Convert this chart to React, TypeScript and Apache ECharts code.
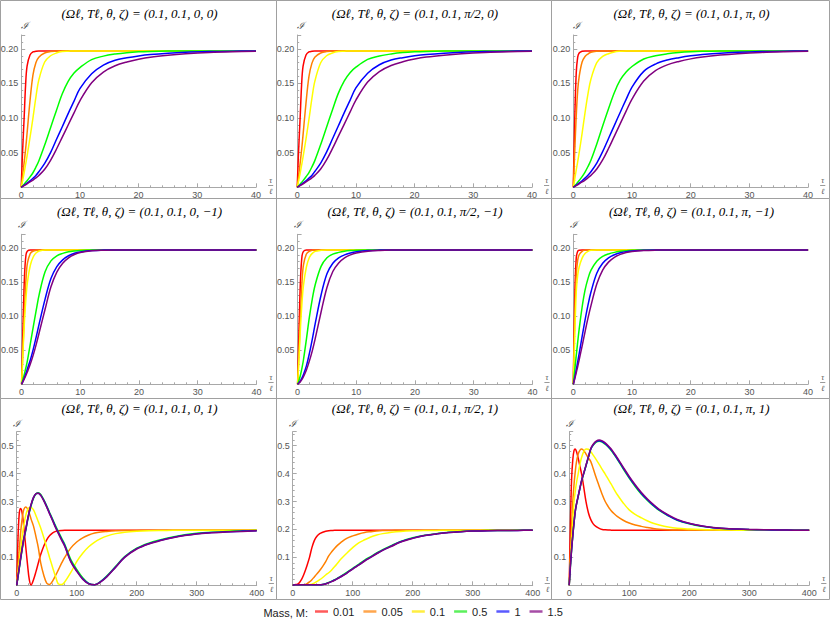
import React, { useEffect, useRef } from "react";
import * as echarts from "echarts";

// ---------- labels ----------
const MASS_LABELS = ["0.01", "0.05", "0.1", "0.5", "1", "1.5"];
const MASS_COLORS = ["#ff0000", "#ff8000", "#ffff00", "#00ff00", "#0000ff", "#800080"];
const LEGEND_COLORS = ["#ff5a5a", "#ffa64d", "#ffee40", "#5cf05c", "#5a5aff", "#a64da6"];
const PANEL_TITLES = [
  "(Ωℓ, Tℓ, θ, ζ) = (0.1, 0.1, 0, 0)",
  "(Ωℓ, Tℓ, θ, ζ) = (0.1, 0.1, π/2, 0)",
  "(Ωℓ, Tℓ, θ, ζ) = (0.1, 0.1, π, 0)",
  "(Ωℓ, Tℓ, θ, ζ) = (0.1, 0.1, 0, −1)",
  "(Ωℓ, Tℓ, θ, ζ) = (0.1, 0.1, π/2, −1)",
  "(Ωℓ, Tℓ, θ, ζ) = (0.1, 0.1, π, −1)",
  "(Ωℓ, Tℓ, θ, ζ) = (0.1, 0.1, 0, 1)",
  "(Ωℓ, Tℓ, θ, ζ) = (0.1, 0.1, π/2, 1)",
  "(Ωℓ, Tℓ, θ, ζ) = (0.1, 0.1, π, 1)",
];

// ---------- axis ranges ----------
const X_MAX_FAST = 40;
const X_STEP_FAST = 10;
const Y_MAX_FAST = 0.22;
const Y_STEP_FAST = 0.05;
const X_MAX_SLOW = 400;
const X_STEP_SLOW = 100;
const Y_MAX_SLOW = 0.55;
const Y_STEP_SLOW = 0.1;

// ---------- sample abscissae ----------
const X_FAST = [0, 0.25, 0.5, 0.75, 1, 1.5, 2, 2.5, 3, 4, 5, 6, 7, 8, 9, 10, 12, 14, 16, 18, 20, 22, 25, 28, 32, 36, 40];
const X_SLOW = [0, 2, 4, 6, 8, 10, 12, 15, 18, 21, 24, 28, 32, 36, 40, 45, 50, 55, 60, 65, 70, 75, 80, 90, 100,
  110, 120, 130, 140, 150, 165, 180, 200, 220, 240, 260, 280, 300, 325, 350, 375, 400];

// ---------- panel A: theta=0, zeta=0 ----------
const A_RED = [0, 0.055, 0.1, 0.148, 0.175, 0.191, 0.1955, 0.1965, 0.197, 0.197,
  0.197, 0.197, 0.197, 0.197, 0.197, 0.197, 0.197, 0.197, 0.197, 0.197,
  0.197, 0.197, 0.197, 0.197, 0.197, 0.197, 0.197];
const A_ORANGE = [0, 0.018, 0.036, 0.055, 0.078, 0.125, 0.162, 0.18, 0.188, 0.194,
  0.196, 0.1965, 0.197, 0.197, 0.197, 0.197, 0.197, 0.197, 0.197, 0.197,
  0.197, 0.197, 0.197, 0.197, 0.197, 0.197, 0.197];
const A_YELLOW = [0, 0.01, 0.021, 0.033, 0.045, 0.072, 0.1, 0.13, 0.155, 0.181,
  0.19, 0.194, 0.196, 0.1965, 0.197, 0.197, 0.197, 0.197, 0.197, 0.197,
  0.197, 0.197, 0.197, 0.197, 0.197, 0.197, 0.197];
const A_GREEN = [0, 0.0022, 0.0045, 0.007, 0.0095, 0.015, 0.021, 0.029, 0.038, 0.061,
  0.086, 0.111, 0.135, 0.153, 0.165, 0.173, 0.1845, 0.1895, 0.1925, 0.1945,
  0.1957, 0.1963, 0.1968, 0.197, 0.197, 0.197, 0.197];
const A_BLUE = [0, 0.0015, 0.003, 0.0045, 0.006, 0.0093, 0.013, 0.017, 0.0225, 0.0345,
  0.05, 0.069, 0.0875, 0.1065, 0.1245, 0.1425, 0.164, 0.1765, 0.1835, 0.187,
  0.1897, 0.1917, 0.1937, 0.195, 0.196, 0.1966, 0.1969];
const A_PURPLE = [0, 0.0012, 0.0025, 0.0037, 0.005, 0.0077, 0.0105, 0.0135, 0.017, 0.026,
  0.039, 0.055, 0.0725, 0.09, 0.1075, 0.125, 0.151, 0.1665, 0.1755, 0.181,
  0.185, 0.188, 0.1908, 0.1928, 0.1947, 0.1958, 0.1964];

// ---------- panel B: theta=pi/2, zeta=0 ----------
const B_RED = [0, 0.055, 0.1, 0.148, 0.175, 0.191, 0.1955, 0.1965, 0.197, 0.197,
  0.197, 0.197, 0.197, 0.197, 0.197, 0.197, 0.197, 0.197, 0.197, 0.197,
  0.197, 0.197, 0.197, 0.197, 0.197, 0.197, 0.197];
const B_ORANGE = [0, 0.017, 0.035, 0.054, 0.076, 0.122, 0.16, 0.179, 0.188, 0.194,
  0.196, 0.1965, 0.197, 0.197, 0.197, 0.197, 0.197, 0.197, 0.197, 0.197,
  0.197, 0.197, 0.197, 0.197, 0.197, 0.197, 0.197];
const B_YELLOW = [0, 0.01, 0.02, 0.032, 0.044, 0.07, 0.098, 0.128, 0.153, 0.18,
  0.19, 0.194, 0.196, 0.1965, 0.197, 0.197, 0.197, 0.197, 0.197, 0.197,
  0.197, 0.197, 0.197, 0.197, 0.197, 0.197, 0.197];
const B_GREEN = [0, 0.0022, 0.0045, 0.007, 0.0096, 0.0152, 0.0213, 0.0293, 0.0385, 0.0617,
  0.0868, 0.1118, 0.1357, 0.1535, 0.1655, 0.1735, 0.1848, 0.1897, 0.1926, 0.1946,
  0.1957, 0.1963, 0.1968, 0.197, 0.197, 0.197, 0.197];
const B_BLUE = [0, 0.0015, 0.003, 0.0045, 0.006, 0.0094, 0.0132, 0.0172, 0.0228, 0.035,
  0.0508, 0.0698, 0.0885, 0.1075, 0.1255, 0.1435, 0.1648, 0.177, 0.1838, 0.1873,
  0.1899, 0.1918, 0.1937, 0.195, 0.196, 0.1966, 0.1969];
const B_PURPLE = [0, 0.0012, 0.0025, 0.0037, 0.005, 0.0077, 0.0106, 0.0137, 0.0172, 0.0264,
  0.0395, 0.0558, 0.0735, 0.091, 0.1085, 0.126, 0.152, 0.1672, 0.176, 0.1813,
  0.1852, 0.1881, 0.1909, 0.1929, 0.1947, 0.1958, 0.1964];

// ---------- panel C: theta=pi, zeta=0 ----------
const C_RED = [0, 0.1, 0.165, 0.188, 0.194, 0.1965, 0.197, 0.197, 0.197, 0.197,
  0.197, 0.197, 0.197, 0.197, 0.197, 0.197, 0.197, 0.197, 0.197, 0.197,
  0.197, 0.197, 0.197, 0.197, 0.197, 0.197, 0.197];
const C_ORANGE = [0, 0.053, 0.103, 0.14, 0.16, 0.181, 0.189, 0.1925, 0.195, 0.1965,
  0.197, 0.197, 0.197, 0.197, 0.197, 0.197, 0.197, 0.197, 0.197, 0.197,
  0.197, 0.197, 0.197, 0.197, 0.197, 0.197, 0.197];
const C_YELLOW = [0, 0.012, 0.025, 0.037, 0.05, 0.078, 0.108, 0.135, 0.156, 0.18,
  0.189, 0.193, 0.1955, 0.1965, 0.197, 0.197, 0.197, 0.197, 0.197, 0.197,
  0.197, 0.197, 0.197, 0.197, 0.197, 0.197, 0.197];
const C_GREEN = [0, 0.0022, 0.0046, 0.0072, 0.0098, 0.0155, 0.022, 0.03, 0.039, 0.0625,
  0.0885, 0.1135, 0.137, 0.155, 0.1665, 0.1745, 0.1853, 0.19, 0.1928, 0.1947,
  0.1958, 0.1964, 0.1968, 0.197, 0.197, 0.197, 0.197];
const C_BLUE = [0, 0.0015, 0.003, 0.0045, 0.006, 0.0095, 0.0133, 0.0175, 0.0225, 0.035,
  0.0515, 0.0705, 0.0895, 0.1085, 0.127, 0.1448, 0.1675, 0.178, 0.1838, 0.1873,
  0.19, 0.1918, 0.1938, 0.195, 0.196, 0.1966, 0.1969];
const C_PURPLE = [0, 0.0012, 0.0025, 0.0037, 0.005, 0.0077, 0.0105, 0.0137, 0.0172, 0.0265,
  0.0395, 0.056, 0.074, 0.092, 0.11, 0.1275, 0.1535, 0.1685, 0.1768, 0.1818,
  0.1855, 0.1882, 0.191, 0.193, 0.1948, 0.1958, 0.1964];

// ---------- panel D: theta=0, zeta=-1 ----------
const D_RED = [0, 0.09, 0.16, 0.19, 0.1955, 0.197, 0.197, 0.197, 0.197, 0.197,
  0.197, 0.197, 0.197, 0.197, 0.197, 0.197, 0.197, 0.197, 0.197, 0.197,
  0.197, 0.197, 0.197, 0.197, 0.197, 0.197, 0.197];
const D_ORANGE = [0, 0.055, 0.11, 0.155, 0.178, 0.192, 0.1955, 0.1965, 0.197, 0.197,
  0.197, 0.197, 0.197, 0.197, 0.197, 0.197, 0.197, 0.197, 0.197, 0.197,
  0.197, 0.197, 0.197, 0.197, 0.197, 0.197, 0.197];
const D_YELLOW = [0, 0.05, 0.095, 0.127, 0.15, 0.175, 0.187, 0.193, 0.1955, 0.197,
  0.197, 0.197, 0.197, 0.197, 0.197, 0.197, 0.197, 0.197, 0.197, 0.197,
  0.197, 0.197, 0.197, 0.197, 0.197, 0.197, 0.197];
const D_GREEN = [0, 0.008, 0.016, 0.025, 0.035, 0.06, 0.085, 0.109, 0.132, 0.165,
  0.181, 0.1885, 0.192, 0.1943, 0.1955, 0.1962, 0.1968, 0.197, 0.197, 0.197,
  0.197, 0.197, 0.197, 0.197, 0.197, 0.197, 0.197];
const D_BLUE = [0, 0.005, 0.0105, 0.0165, 0.023, 0.036, 0.052, 0.07, 0.089, 0.125,
  0.155, 0.1725, 0.1825, 0.1885, 0.1922, 0.1942, 0.1962, 0.1968, 0.197, 0.197,
  0.197, 0.197, 0.197, 0.197, 0.197, 0.197, 0.197];
const D_PURPLE = [0, 0.0042, 0.0087, 0.0135, 0.0185, 0.03, 0.0435, 0.059, 0.076, 0.11,
  0.143, 0.1645, 0.1775, 0.1855, 0.1903, 0.1932, 0.1958, 0.1966, 0.197, 0.197,
  0.197, 0.197, 0.197, 0.197, 0.197, 0.197, 0.197];

// ---------- panel E: theta=pi/2, zeta=-1 ----------
const E_RED = [0, 0.085, 0.155, 0.188, 0.195, 0.197, 0.197, 0.197, 0.197, 0.197,
  0.197, 0.197, 0.197, 0.197, 0.197, 0.197, 0.197, 0.197, 0.197, 0.197,
  0.197, 0.197, 0.197, 0.197, 0.197, 0.197, 0.197];
const E_ORANGE = [0, 0.05, 0.105, 0.15, 0.175, 0.191, 0.195, 0.1965, 0.197, 0.197,
  0.197, 0.197, 0.197, 0.197, 0.197, 0.197, 0.197, 0.197, 0.197, 0.197,
  0.197, 0.197, 0.197, 0.197, 0.197, 0.197, 0.197];
const E_YELLOW = [0, 0.04, 0.085, 0.12, 0.145, 0.172, 0.186, 0.192, 0.195, 0.1965,
  0.197, 0.197, 0.197, 0.197, 0.197, 0.197, 0.197, 0.197, 0.197, 0.197,
  0.197, 0.197, 0.197, 0.197, 0.197, 0.197, 0.197];
const E_GREEN = [0, 0.006, 0.014, 0.024, 0.036, 0.066, 0.098, 0.125, 0.146, 0.173,
  0.1855, 0.191, 0.1935, 0.1952, 0.1961, 0.1966, 0.197, 0.197, 0.197, 0.197,
  0.197, 0.197, 0.197, 0.197, 0.197, 0.197, 0.197];
const E_BLUE = [0, 0.0025, 0.0055, 0.0095, 0.0145, 0.027, 0.045, 0.066, 0.089, 0.131,
  0.162, 0.1775, 0.1853, 0.1898, 0.1925, 0.1943, 0.1962, 0.1968, 0.197, 0.197,
  0.197, 0.197, 0.197, 0.197, 0.197, 0.197, 0.197];
const E_PURPLE = [0, 0.0018, 0.0042, 0.0072, 0.011, 0.021, 0.034, 0.049, 0.067, 0.106,
  0.142, 0.1655, 0.178, 0.1855, 0.1898, 0.1925, 0.1952, 0.1964, 0.1969, 0.197,
  0.197, 0.197, 0.197, 0.197, 0.197, 0.197, 0.197];

// ---------- panel F: theta=pi, zeta=-1 ----------
const F_RED = [0, 0.13, 0.185, 0.195, 0.1965, 0.197, 0.197, 0.197, 0.197, 0.197,
  0.197, 0.197, 0.197, 0.197, 0.197, 0.197, 0.197, 0.197, 0.197, 0.197,
  0.197, 0.197, 0.197, 0.197, 0.197, 0.197, 0.197];
const F_ORANGE = [0, 0.1, 0.16, 0.182, 0.19, 0.195, 0.1968, 0.197, 0.197, 0.197,
  0.197, 0.197, 0.197, 0.197, 0.197, 0.197, 0.197, 0.197, 0.197, 0.197,
  0.197, 0.197, 0.197, 0.197, 0.197, 0.197, 0.197];
const F_YELLOW = [0, 0.07, 0.135, 0.16, 0.172, 0.185, 0.192, 0.195, 0.1965, 0.197,
  0.197, 0.197, 0.197, 0.197, 0.197, 0.197, 0.197, 0.197, 0.197, 0.197,
  0.197, 0.197, 0.197, 0.197, 0.197, 0.197, 0.197];
const F_GREEN = [0, 0.021, 0.042, 0.062, 0.081, 0.113, 0.138, 0.155, 0.167, 0.1805,
  0.1875, 0.1912, 0.1935, 0.195, 0.196, 0.1965, 0.1969, 0.197, 0.197, 0.197,
  0.197, 0.197, 0.197, 0.197, 0.197, 0.197, 0.197];
const F_BLUE = [0, 0.01, 0.021, 0.033, 0.045, 0.07, 0.094, 0.116, 0.135, 0.163,
  0.1775, 0.1855, 0.19, 0.1928, 0.1946, 0.1956, 0.1966, 0.197, 0.197, 0.197,
  0.197, 0.197, 0.197, 0.197, 0.197, 0.197, 0.197];
const F_PURPLE = [0, 0.008, 0.017, 0.026, 0.036, 0.056, 0.077, 0.097, 0.115, 0.147,
  0.1675, 0.1792, 0.1862, 0.1905, 0.1932, 0.1948, 0.1962, 0.1968, 0.197, 0.197,
  0.197, 0.197, 0.197, 0.197, 0.197, 0.197, 0.197];

// ---------- panel G: theta=0, zeta=1 ----------
const G_RED = [0, 0.16, 0.25, 0.275, 0.27, 0.245, 0.205, 0.14, 0.075, 0.02,
  0.001, 0.02, 0.048, 0.08, 0.11, 0.14, 0.163, 0.178, 0.188, 0.193,
  0.1955, 0.1965, 0.197, 0.197, 0.197, 0.197, 0.197, 0.197, 0.197, 0.197,
  0.197, 0.197, 0.197, 0.197, 0.197, 0.197, 0.197, 0.197, 0.197, 0.197,
  0.197, 0.197];
const G_ORANGE = [0, 0.06, 0.12, 0.175, 0.22, 0.252, 0.272, 0.28, 0.274, 0.258,
  0.237, 0.212, 0.175, 0.135, 0.08, 0.037, 0.008, 0.003, 0.016, 0.036,
  0.058, 0.08, 0.1, 0.133, 0.155, 0.17, 0.18, 0.187, 0.191, 0.193,
  0.195, 0.196, 0.1965, 0.197, 0.197, 0.197, 0.197, 0.197, 0.197, 0.197,
  0.197, 0.197];
const G_YELLOW = [0, 0.04, 0.08, 0.118, 0.155, 0.19, 0.218, 0.25, 0.27, 0.279,
  0.279, 0.27, 0.25, 0.228, 0.205, 0.172, 0.135, 0.098, 0.063, 0.03,
  0.004, 0.003, 0.012, 0.045, 0.085, 0.115, 0.138, 0.155, 0.167, 0.176,
  0.185, 0.19, 0.1935, 0.1955, 0.1963, 0.1967, 0.197, 0.197, 0.197, 0.197,
  0.197, 0.197];
const G_GREEN = [0, 0.027, 0.056, 0.085, 0.113, 0.14, 0.165, 0.195, 0.23, 0.26,
  0.285, 0.312, 0.327, 0.331, 0.325, 0.307, 0.285, 0.26, 0.236, 0.212,
  0.19, 0.168, 0.147, 0.093, 0.057, 0.027, 0.007, 0.002, 0.014, 0.033,
  0.068, 0.103, 0.133, 0.151, 0.163, 0.173, 0.181, 0.186, 0.19, 0.193,
  0.195, 0.196];
const G_BLUE = [0, 0.029, 0.058, 0.088, 0.116, 0.143, 0.168, 0.198, 0.233, 0.263,
  0.288, 0.314, 0.328, 0.33, 0.323, 0.305, 0.282, 0.257, 0.233, 0.208,
  0.186, 0.164, 0.143, 0.087, 0.052, 0.023, 0.006, 0.002, 0.013, 0.031,
  0.066, 0.101, 0.131, 0.149, 0.161, 0.171, 0.179, 0.185, 0.189, 0.192,
  0.194, 0.1955];
const G_PURPLE = [0, 0.03, 0.06, 0.09, 0.118, 0.145, 0.17, 0.2, 0.235, 0.265,
  0.29, 0.315, 0.328, 0.33, 0.322, 0.303, 0.28, 0.255, 0.23, 0.205,
  0.183, 0.161, 0.14, 0.085, 0.05, 0.022, 0.005, 0.002, 0.012, 0.03,
  0.065, 0.1, 0.13, 0.148, 0.16, 0.17, 0.178, 0.184, 0.188, 0.191,
  0.193, 0.195];

// ---------- panel H: theta=pi/2, zeta=1 ----------
const H_RED = [0, 0.001, 0.002, 0.003, 0.004, 0.007, 0.012, 0.022, 0.036, 0.053,
  0.072, 0.1, 0.135, 0.16, 0.175, 0.185, 0.19, 0.1935, 0.1955, 0.1963,
  0.197, 0.197, 0.197, 0.197, 0.197, 0.197, 0.197, 0.197, 0.197, 0.197,
  0.197, 0.197, 0.197, 0.197, 0.197, 0.197, 0.197, 0.197, 0.197, 0.197,
  0.197, 0.197];
const H_ORANGE = [0, 0.001, 0.001, 0.002, 0.002, 0.002, 0.002, 0.002, 0.002, 0.003,
  0.006, 0.012, 0.02, 0.03, 0.04, 0.053, 0.068, 0.085, 0.105, 0.12,
  0.133, 0.144, 0.153, 0.168, 0.177, 0.184, 0.189, 0.192, 0.1945, 0.196,
  0.1965, 0.197, 0.197, 0.197, 0.197, 0.197, 0.197, 0.197, 0.197, 0.197,
  0.197, 0.197];
const H_YELLOW = [0, 0.001, 0.001, 0.001, 0.002, 0.002, 0.002, 0.002, 0.002, 0.002,
  0.002, 0.002, 0.004, 0.008, 0.013, 0.02, 0.028, 0.037, 0.045, 0.055,
  0.067, 0.08, 0.093, 0.115, 0.135, 0.152, 0.163, 0.173, 0.18, 0.185,
  0.19, 0.193, 0.195, 0.196, 0.1965, 0.197, 0.197, 0.197, 0.197, 0.197,
  0.197, 0.197];
const H_GREEN = [0, 0.001, 0.002, 0.002, 0.002, 0.002, 0.002, 0.002, 0.002, 0.002,
  0.002, 0.002, 0.002, 0.002, 0.002, 0.002, 0.003, 0.006, 0.01, 0.015,
  0.02, 0.026, 0.032, 0.046, 0.061, 0.075, 0.09, 0.103, 0.116, 0.128,
  0.143, 0.157, 0.17, 0.179, 0.185, 0.19, 0.193, 0.1945, 0.1958, 0.1963,
  0.1967, 0.197];
const H_BLUE = [0, 0.001, 0.002, 0.002, 0.002, 0.002, 0.002, 0.002, 0.002, 0.002,
  0.002, 0.002, 0.002, 0.002, 0.002, 0.002, 0.003, 0.0055, 0.0095, 0.014,
  0.019, 0.025, 0.031, 0.044, 0.059, 0.073, 0.088, 0.101, 0.114, 0.126,
  0.141, 0.156, 0.169, 0.178, 0.184, 0.189, 0.192, 0.194, 0.1955, 0.196,
  0.1965, 0.197];
const H_PURPLE = [0, 0.001, 0.002, 0.002, 0.002, 0.002, 0.002, 0.002, 0.002, 0.002,
  0.002, 0.002, 0.002, 0.002, 0.002, 0.002, 0.003, 0.005, 0.009, 0.013,
  0.018, 0.024, 0.03, 0.043, 0.058, 0.072, 0.087, 0.1, 0.113, 0.125,
  0.14, 0.155, 0.168, 0.178, 0.184, 0.189, 0.192, 0.194, 0.1955, 0.196,
  0.1965, 0.197];

// ---------- panel I: theta=pi, zeta=1 ----------
const I_RED = [0, 0.22, 0.38, 0.45, 0.482, 0.488, 0.48, 0.455, 0.425, 0.395,
  0.355, 0.3, 0.26, 0.235, 0.22, 0.21, 0.204, 0.2, 0.1985, 0.1978,
  0.1975, 0.1972, 0.197, 0.197, 0.197, 0.197, 0.197, 0.197, 0.197, 0.197,
  0.197, 0.197, 0.197, 0.197, 0.197, 0.197, 0.197, 0.197, 0.197, 0.197,
  0.197, 0.197];
const I_ORANGE = [0, 0.11, 0.21, 0.3, 0.36, 0.405, 0.44, 0.47, 0.484, 0.488,
  0.483, 0.47, 0.456, 0.443, 0.418, 0.385, 0.355, 0.325, 0.3, 0.282,
  0.267, 0.256, 0.247, 0.233, 0.223, 0.216, 0.211, 0.207, 0.2035, 0.201,
  0.199, 0.198, 0.1975, 0.197, 0.197, 0.197, 0.197, 0.197, 0.197, 0.197,
  0.197, 0.197];
const I_YELLOW = [0, 0.08, 0.16, 0.235, 0.3, 0.335, 0.365, 0.4, 0.435, 0.46,
  0.478, 0.488, 0.487, 0.478, 0.466, 0.45, 0.433, 0.415, 0.398, 0.38,
  0.362, 0.343, 0.325, 0.295, 0.27, 0.254, 0.242, 0.231, 0.222, 0.216,
  0.209, 0.2045, 0.2015, 0.1995, 0.1985, 0.198, 0.1975, 0.197, 0.197, 0.197,
  0.197, 0.197];
const I_GREEN = [0, 0.068, 0.127, 0.177, 0.222, 0.262, 0.288, 0.318, 0.348, 0.376,
  0.398, 0.428, 0.458, 0.487, 0.502, 0.513, 0.516, 0.513, 0.505, 0.495,
  0.483, 0.468, 0.452, 0.417, 0.384, 0.354, 0.327, 0.305, 0.285, 0.268,
  0.249, 0.233, 0.22, 0.211, 0.206, 0.2025, 0.201, 0.1995, 0.1985, 0.198,
  0.1973, 0.197];
const I_BLUE = [0, 0.069, 0.128, 0.178, 0.223, 0.263, 0.289, 0.319, 0.349, 0.377,
  0.399, 0.429, 0.459, 0.488, 0.503, 0.514, 0.518, 0.515, 0.507, 0.497,
  0.485, 0.47, 0.454, 0.42, 0.387, 0.357, 0.33, 0.307, 0.287, 0.27,
  0.25, 0.234, 0.221, 0.212, 0.2065, 0.203, 0.2013, 0.1998, 0.1988, 0.198,
  0.1974, 0.197];
const I_PURPLE = [0, 0.07, 0.13, 0.18, 0.225, 0.265, 0.29, 0.32, 0.35, 0.378,
  0.4, 0.43, 0.46, 0.49, 0.505, 0.516, 0.52, 0.517, 0.51, 0.5,
  0.488, 0.473, 0.457, 0.423, 0.39, 0.36, 0.333, 0.31, 0.29, 0.272,
  0.252, 0.236, 0.222, 0.213, 0.207, 0.2035, 0.2015, 0.2, 0.199, 0.198,
  0.1975, 0.197];

const PANEL_DATA = [
  [A_RED, A_ORANGE, A_YELLOW, A_GREEN, A_BLUE, A_PURPLE],
  [B_RED, B_ORANGE, B_YELLOW, B_GREEN, B_BLUE, B_PURPLE],
  [C_RED, C_ORANGE, C_YELLOW, C_GREEN, C_BLUE, C_PURPLE],
  [D_RED, D_ORANGE, D_YELLOW, D_GREEN, D_BLUE, D_PURPLE],
  [E_RED, E_ORANGE, E_YELLOW, E_GREEN, E_BLUE, E_PURPLE],
  [F_RED, F_ORANGE, F_YELLOW, F_GREEN, F_BLUE, F_PURPLE],
  [G_RED, G_ORANGE, G_YELLOW, G_GREEN, G_BLUE, G_PURPLE],
  [H_RED, H_ORANGE, H_YELLOW, H_GREEN, H_BLUE, H_PURPLE],
  [I_RED, I_ORANGE, I_YELLOW, I_GREEN, I_BLUE, I_PURPLE],
];

const SANS = "'Liberation Sans', Arial, sans-serif";
const SERIF = "'Liberation Serif', 'DejaVu Serif', serif";

function buildOption() {
  const AX = "#a8a8a8";
  const LABEL = "#555555";
  const COL_EDGE = [0.5, 276.5, 551.5, 829.5];
  const ROW_EDGE = [0.5, 198.5, 398.5, 599.5];
  const GRID_LEFT = [
    [21.2, 297.2, 573.3],
    [21.6, 297.6, 573.3],
    [16.7, 292.7, 569.2],
  ];
  const GRID_W = [234.8, 234.8, 240];
  const GRID_TOP = [35, 234.3, 431.7];
  const AXIS_Y = [187.3, 384.3, 585.3];
  const TITLE_Y = [13, 211, 408];

  const grids: any[] = [];
  const xAxes: any[] = [];
  const yAxes: any[] = [];
  const series: any[] = [];
  const elements: any[] = [];

  const textStyle = (text: string, size: number, family: string, italic: boolean, fill: string, align: string) => ({
    text,
    fill,
    fontSize: size,
    fontStyle: italic ? "italic" : "normal",
    fontWeight: "normal",
    fontFamily: family,
    align,
    verticalAlign: "middle",
    textAlign: align,
    textVerticalAlign: "middle",
  });

  for (let r = 0; r < 3; r++) {
    for (let c = 0; c < 3; c++) {
      const i = r * 3 + c;
      const slow = r === 2;
      const left = GRID_LEFT[r][c];
      const width = GRID_W[r];
      const top = GRID_TOP[r];
      const height = AXIS_Y[r] - top;
      grids.push({ left, top, width, height, containLabel: false, outerBoundsMode: "none" });

      const tickCommon = {
        axisLine: { show: true, onZero: false, lineStyle: { color: AX, width: 1 } },
        axisTick: { show: true, inside: true, length: 4, lineStyle: { color: AX, width: 1 } },
        minorTick: { show: true, splitNumber: 5, length: 2, lineStyle: { color: AX, width: 1 } },
        splitLine: { show: false },
        minorSplitLine: { show: false },
      };

      xAxes.push({
        gridIndex: i,
        type: "value",
        min: 0,
        max: slow ? X_MAX_SLOW : X_MAX_FAST,
        interval: slow ? X_STEP_SLOW : X_STEP_FAST,
        ...tickCommon,
        axisLabel: { margin: 3, fontSize: 9, color: LABEL, fontFamily: SANS },
      });

      const dec = slow ? 1 : 2;
      const step = slow ? Y_STEP_SLOW : Y_STEP_FAST;
      yAxes.push({
        gridIndex: i,
        type: "value",
        min: 0,
        max: slow ? Y_MAX_SLOW : Y_MAX_FAST,
        interval: step,
        ...tickCommon,
        name: "ℐ",
        nameLocation: "end",
        nameGap: slow ? 3 : 5,
        nameTextStyle: {
          fontFamily: "'DejaVu Serif', serif",
          fontStyle: "italic",
          fontSize: 10,
          color: "#444",
          align: r === 0 ? "left" : "center",
          verticalAlign: "bottom",
          padding: 0,
        },
        axisLabel: {
          margin: 3,
          fontSize: 9,
          color: LABEL,
          fontFamily: SANS,
          showMaxLabel: false,
          formatter: (v: number) => {
            if (v === 0) return "";
            const k = Math.round(v / step);
            if (Math.abs(k * step - v) > 1e-6) return "";
            return v.toFixed(dec);
          },
        },
      });

      const xs = slow ? X_SLOW : X_FAST;
      PANEL_DATA[i].forEach((ys, k) => {
        series.push({
          type: "line",
          name: MASS_LABELS[k],
          xAxisIndex: i,
          yAxisIndex: i,
          data: xs.map((x, j) => [x, ys[j]]),
          symbol: "none",
          showSymbol: false,
          smooth: 0.35,
          clip: true,
          lineStyle: { width: 1.5, color: MASS_COLORS[k] },
          itemStyle: { color: MASS_COLORS[k] },
          z: 2 + k,
        });
      });

      // panel frame
      elements.push({
        type: "rect",
        silent: true,
        z: 0,
        shape: {
          x: COL_EDGE[c],
          y: ROW_EDGE[r],
          width: COL_EDGE[c + 1] - COL_EDGE[c],
          height: ROW_EDGE[r + 1] - ROW_EDGE[r],
        },
        style: { fill: "none", stroke: "#a0a0a0", lineWidth: 1 },
      });

      // panel title
      elements.push({
        type: "text",
        silent: true,
        x: (COL_EDGE[c] + COL_EDGE[c + 1]) / 2 + 1,
        y: TITLE_Y[r],
        style: textStyle(PANEL_TITLES[i], 13, SERIF, true, "#000", "center"),
      });

      // x-axis name: tau over l
      const gx = left + width + 14.6;
      const ay = AXIS_Y[r];
      elements.push({
        type: "text",
        silent: true,
        x: gx,
        y: ay - 6.4,
        style: textStyle("τ", 8, SERIF, true, LABEL, "center"),
      });
      elements.push({
        type: "line",
        silent: true,
        shape: { x1: gx - 2.6, y1: ay - 1.8, x2: gx + 2.6, y2: ay - 1.8 },
        style: { stroke: LABEL, lineWidth: 0.6 },
      });
      elements.push({
        type: "text",
        silent: true,
        x: gx,
        y: ay + 4.2,
        style: textStyle("ℓ", 8, SERIF, true, LABEL, "center"),
      });
    }
  }

  elements.push({
    type: "text",
    silent: true,
    x: 308,
    y: 613,
    style: textStyle("Mass, M:", 11, SANS, false, "#222", "right"),
  });

  return {
    animation: false,
    backgroundColor: "#ffffff",
    grid: grids,
    xAxis: xAxes,
    yAxis: yAxes,
    series,
    legend: {
      left: 315,
      top: 606,
      padding: 0,
      icon: "rect",
      itemWidth: 13,
      itemHeight: 2.5,
      itemGap: 9,
      selectedMode: false,
      textStyle: { fontSize: 11, color: "#222", fontFamily: SANS, padding: [0, 0, 0, 0] },
      data: MASS_LABELS.map((n, k) => ({
        name: n,
        icon: "rect",
        itemStyle: { color: LEGEND_COLORS[k] },
      })),
    },
    graphic: { elements },
  };
}

export default function App() {
  const ref = useRef<HTMLDivElement>(null);
  useEffect(() => {
    document.body.style.margin = "0";
    if (!ref.current) return;
    const chart = echarts.init(ref.current, null, { renderer: "svg" });
    chart.setOption(buildOption());
    return () => {
      chart.dispose();
    };
  }, []);
  return <div ref={ref} style={{ width: 830, height: 625 }} />;
}
